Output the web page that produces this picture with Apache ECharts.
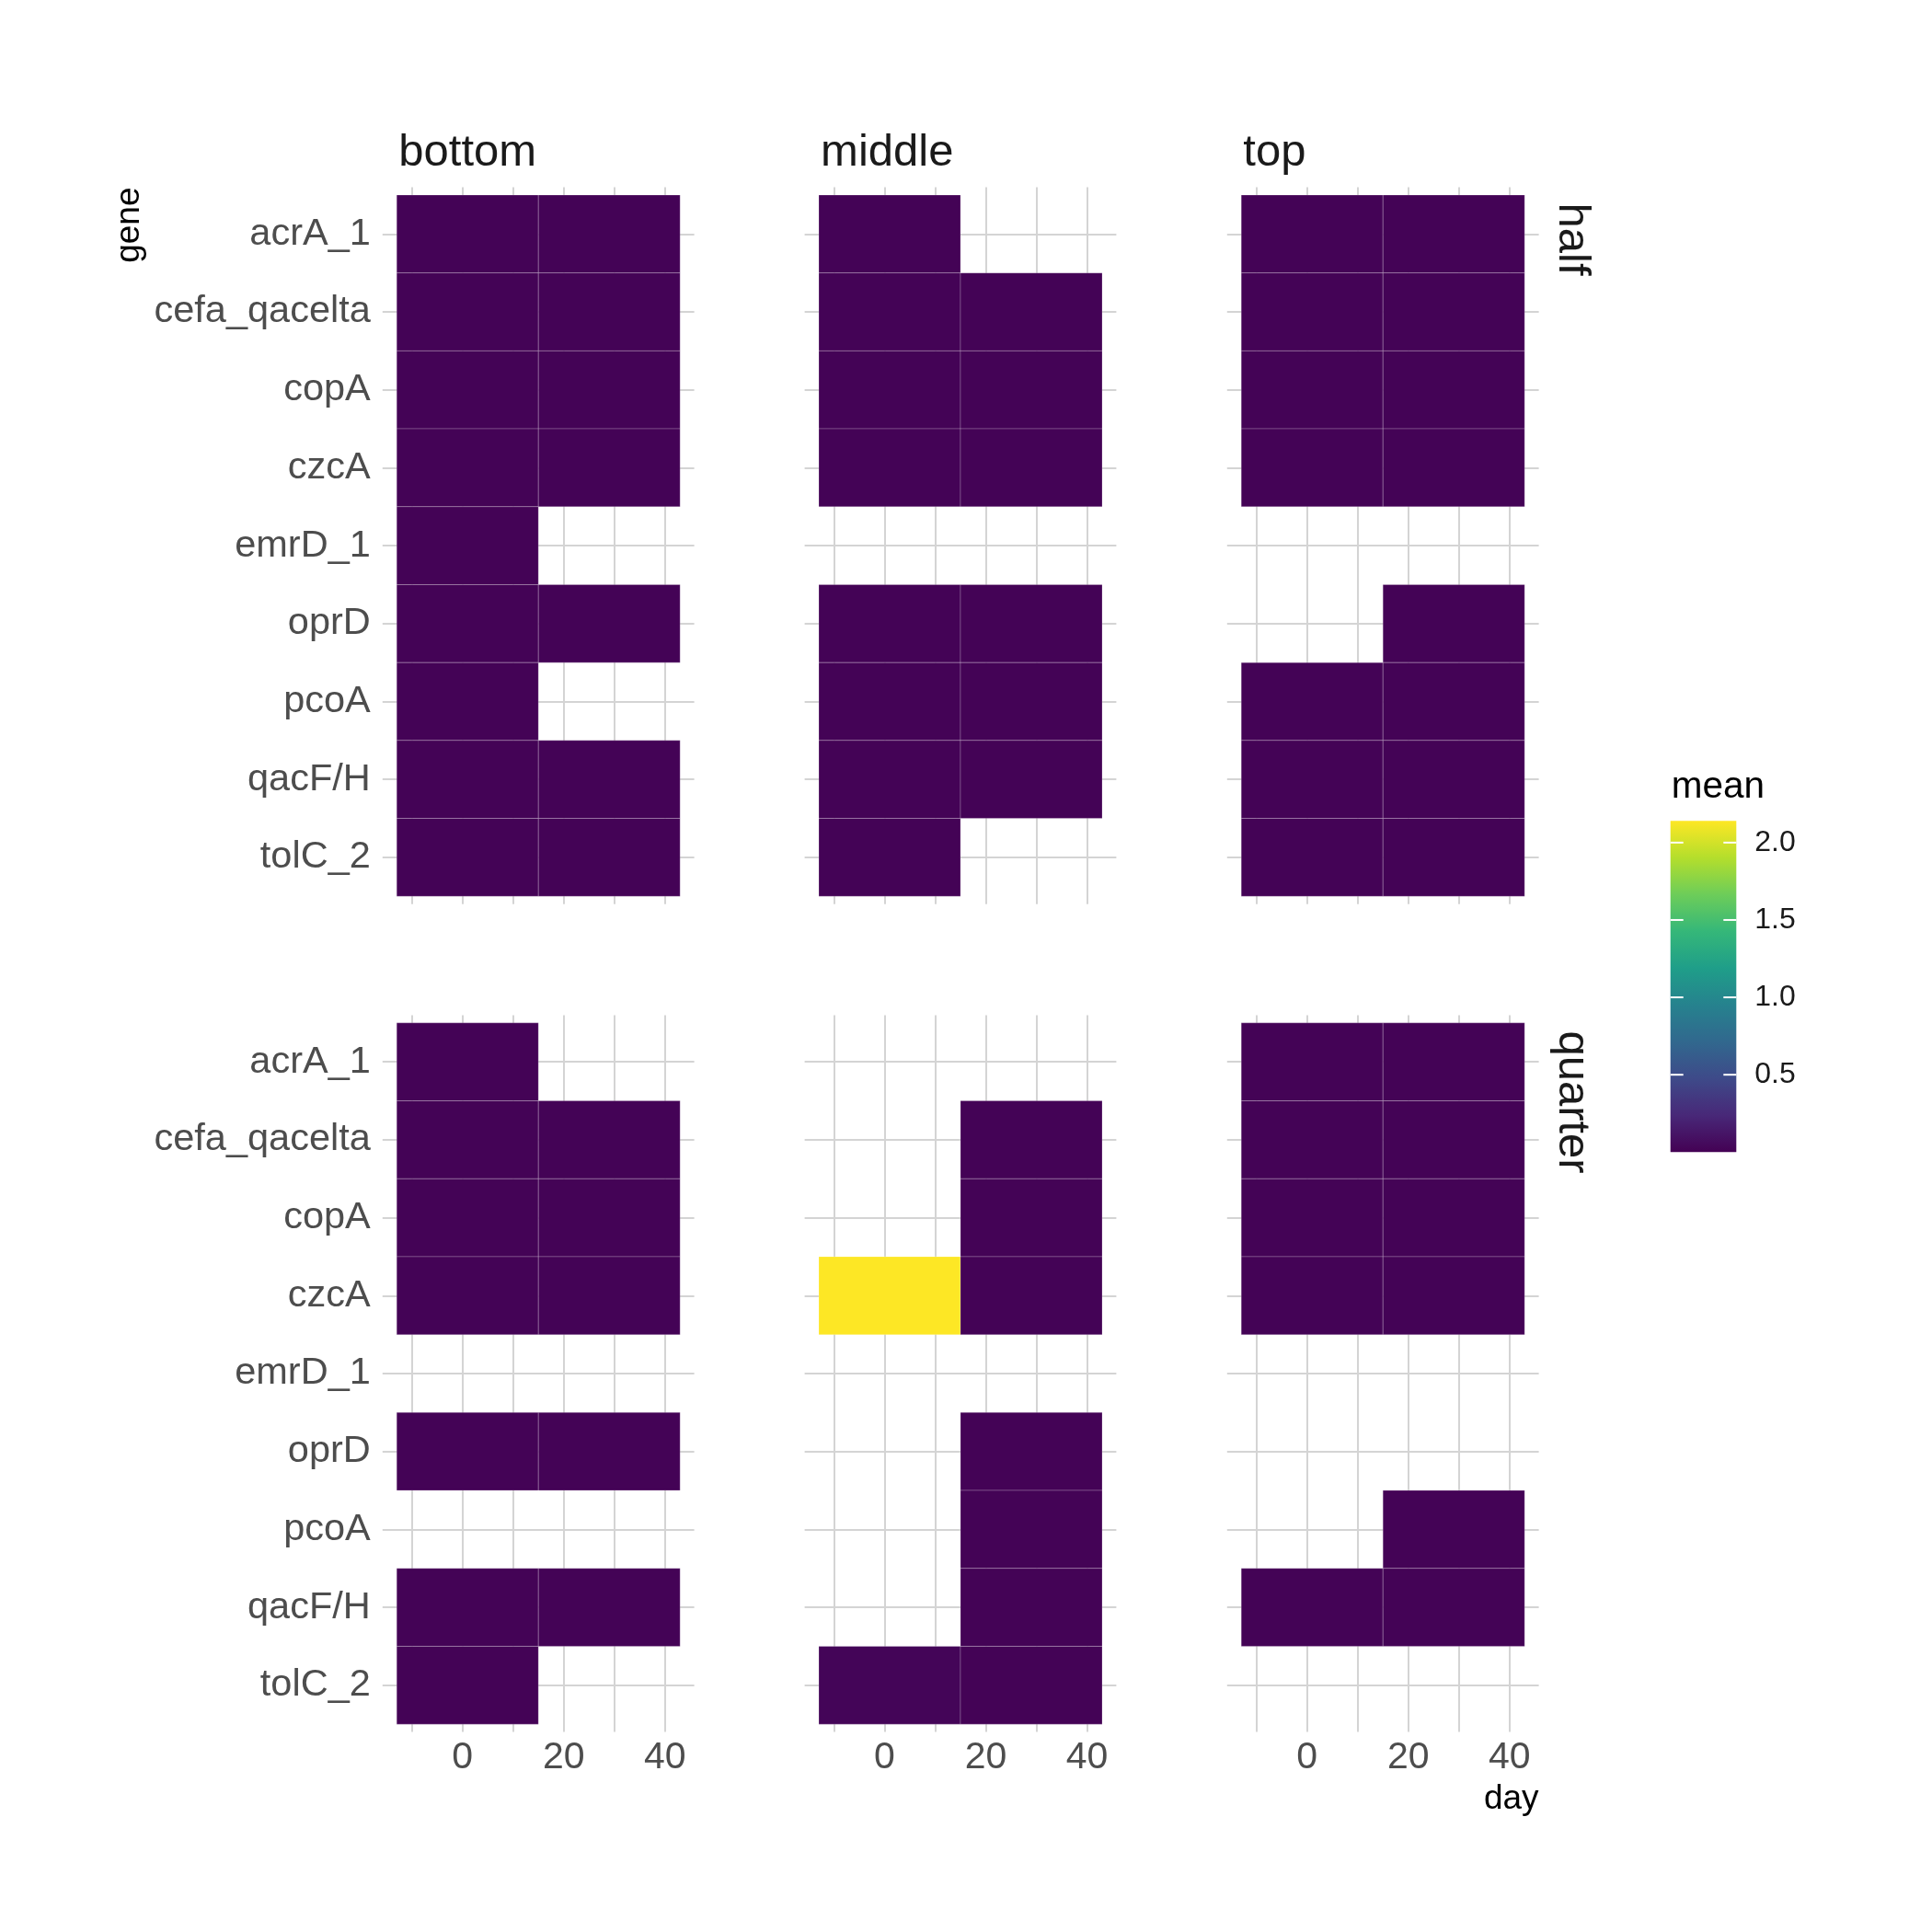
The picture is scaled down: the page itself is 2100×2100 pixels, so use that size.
<!DOCTYPE html>
<html>
<head>
<meta charset="utf-8">
<script src="https://cdn.jsdelivr.net/npm/echarts@6/dist/echarts.min.js"></script>
<style>
html,body{margin:0;padding:0;background:#fff;}
#chart{width:2100px;height:2100px;}
</style>
</head>
<body>
<div id="chart"></div>
<script>
// ---------------- data ----------------
const genes = ['acrA_1','cefa_qacelta','copA','czcA','emrD_1','oprD','pcoA','qacF/H','tolC_2'];
const days = [1, 29];
const positions = ['bottom','middle','top'];
const depths = ['half','quarter'];
const xTickValues = [-10, 0, 10, 20, 30, 40];
const xLabelValues = [0, 20, 40];
const legendTicks = [0.5, 1.0, 1.5, 2.0];
const meanMin = 0;
const meanMax = 2.14;
const tileWidthDays = 28;

// values per gene (order of `genes`), null = no tile
const halfBottomDay1   = [0.01,0.01,0.01,0.01,0.01,0.01,0.01,0.01,0.01];
const halfBottomDay29  = [0.01,0.01,0.01,0.01,null,0.01,null,0.01,0.01];
const halfMiddleDay1   = [0.01,0.01,0.01,0.01,null,0.01,0.01,0.01,0.01];
const halfMiddleDay29  = [null,0.01,0.01,0.01,null,0.01,0.01,0.01,null];
const halfTopDay1      = [0.01,0.01,0.01,0.01,null,null,0.01,0.01,0.01];
const halfTopDay29     = [0.01,0.01,0.01,0.01,null,0.01,0.01,0.01,0.01];
const quarterBottomDay1  = [0.01,0.01,0.01,0.01,null,0.01,null,0.01,0.01];
const quarterBottomDay29 = [null,0.01,0.01,0.01,null,0.01,null,0.01,null];
const quarterMiddleDay1  = [null,null,null,2.14,null,null,null,null,0.025];
const quarterMiddleDay29 = [null,0.01,0.01,0.01,null,0.01,0.01,0.01,0.01];
const quarterTopDay1     = [0.01,0.01,0.01,0.01,null,null,null,0.01,null];
const quarterTopDay29    = [0.01,0.01,0.01,0.01,null,null,0.01,0.01,null];

const panelValues = {
  half:    {bottom:[halfBottomDay1, halfBottomDay29], middle:[halfMiddleDay1, halfMiddleDay29], top:[halfTopDay1, halfTopDay29]},
  quarter: {bottom:[quarterBottomDay1, quarterBottomDay29], middle:[quarterMiddleDay1, quarterMiddleDay29], top:[quarterTopDay1, quarterTopDay29]}
};

const viridis = ['#440154','#482878','#3E4A89','#31688E','#26828E','#1F9E89','#35B779','#6DCD59','#B4DE2C','#FDE725'];

// ---------------- layout ----------------
const FONT = 'Liberation Sans, Arial, Helvetica, sans-serif';
const colLeft = [415.8, 874.6, 1333.8];
const rowTop = [203.5, 1103.4];
const panelW = 338.8, panelH = 779.2;
const gridColor = '#D4D4D4';

const grids = [], xAxes = [], yAxes = [], series = [], graphics = [];
let gi = 0;
depths.forEach((depth, r) => {
  positions.forEach((pos, c) => {
    grids.push({left: colLeft[c], top: rowTop[r], width: panelW, height: panelH, containLabel: false, show: false});
    xAxes.push({
      type: 'value', gridIndex: gi, min: -15.8, max: 45.8,
      axisLine: {show: false},
      axisTick: {show: false, customValues: xTickValues},
      splitLine: {show: true, lineStyle: {color: gridColor, width: 2}},
      axisLabel: {show: r === 1, customValues: xLabelValues, fontSize: 41, fontFamily: FONT, color: '#4D4D4D', margin: 8}
    });
    yAxes.push({
      type: 'value', gridIndex: gi, inverse: true, min: -0.6, max: 8.6,
      axisLine: {show: false},
      axisTick: {show: false, customValues: genes.map((g, i) => i)},
      splitLine: {show: true, lineStyle: {color: gridColor, width: 2}},
      axisLabel: {show: c === 0, customValues: genes.map((g, i) => i), fontSize: 41.5, fontFamily: FONT, color: '#4D4D4D', margin: 13,
        padding: [6, 0, 0, 0], formatter: v => genes[Math.round(v)]}
    });
    const data = [];
    panelValues[depth][pos].forEach((arr, di) => {
      arr.forEach((v, gIdx) => { if (v !== null) data.push([days[di], gIdx, v]); });
    });
    series.push({
      type: 'custom', xAxisIndex: gi, yAxisIndex: gi, data: data,
      encode: {x: 0, y: 1},
      renderItem: function (params, api) {
        const d = api.value(0), g = api.value(1);
        const p1 = api.coord([d - tileWidthDays / 2, g - 0.5]);
        const p2 = api.coord([d + tileWidthDays / 2, g + 0.5]);
        return {
          type: 'rect',
          shape: {x: Math.min(p1[0], p2[0]), y: Math.min(p1[1], p2[1]), width: Math.abs(p2[0] - p1[0]), height: Math.abs(p2[1] - p1[1])},
          style: {fill: api.visual('color'), stroke: 'rgba(255,255,255,0.22)', lineWidth: 1}
        };
      }
    });
    gi++;
  });
});
const tileSeriesCount = series.length;

// legend colour bar grid
const legLeft = 1815.7, legTop = 892.3, legW = 71.6, legH = 360;
const legIndex = gi;
grids.push({left: legLeft, top: legTop, width: legW, height: legH, containLabel: false, show: false});
xAxes.push({type: 'value', gridIndex: legIndex, min: 0, max: 1, show: false});
yAxes.push({
  type: 'value', gridIndex: legIndex, min: meanMin, max: meanMax, position: 'right',
  axisLine: {show: false}, splitLine: {show: false},
  axisTick: {show: false, customValues: legendTicks},
  axisLabel: {show: true, customValues: legendTicks, margin: 20, fontSize: 32, fontFamily: FONT, color: '#1A1A1A', formatter: v => v.toFixed(1)}
});

graphics.push({
  type: 'rect', z: 0, shape: {x: legLeft, y: legTop, width: legW, height: legH},
  style: {fill: {type: 'linear', x: 0, y: 1, x2: 0, y2: 0,
    colorStops: viridis.map((col, i) => ({offset: i / (viridis.length - 1), color: col}))}}
});

// legend tick marks drawn through the legend axis scale
series.push({
  type: 'custom', xAxisIndex: legIndex, yAxisIndex: legIndex, z: 10,
  data: legendTicks.map(v => [0, v]),
  encode: {x: 0, y: 1},
  renderItem: function (params, api) {
    const pL = api.coord([0, api.value(1)]);
    const pR = api.coord([1, api.value(1)]);
    const len = 14;
    return {
      type: 'group',
      children: [
        {type: 'line', shape: {x1: pL[0], y1: pL[1], x2: pL[0] + len, y2: pL[1]}, style: {stroke: '#ffffff', lineWidth: 2}},
        {type: 'line', shape: {x1: pR[0] - len, y1: pR[1], x2: pR[0], y2: pR[1]}, style: {stroke: '#ffffff', lineWidth: 2}}
      ]
    };
  }
});

// strip labels
positions.forEach((pos, c) => {
  graphics.push({type: 'text', x: colLeft[c] + 17.5, y: 166, z: 5,
    style: {text: pos, fontSize: 49, fontFamily: FONT, fill: '#1A1A1A', align: 'left', verticalAlign: 'middle'}});
});
depths.forEach((d, r) => {
  graphics.push({type: 'text', x: 1709, y: rowTop[r] + 17, rotation: -Math.PI / 2, z: 5,
    style: {text: d, fontSize: 49, fontFamily: FONT, fill: '#1A1A1A', align: 'left', verticalAlign: 'middle'}});
});
// axis titles
graphics.push({type: 'text', x: 141, y: 203.5, rotation: Math.PI / 2, z: 5,
  style: {text: 'gene', fontSize: 37, fontFamily: FONT, fill: '#000', align: 'right', verticalAlign: 'middle'}});
graphics.push({type: 'text', x: 1672.6, y: 1956, z: 5,
  style: {text: 'day', fontSize: 37, fontFamily: FONT, fill: '#000', align: 'right', verticalAlign: 'middle'}});
graphics.push({type: 'text', x: 1816.7, y: 856, z: 5,
  style: {text: 'mean', fontSize: 40.5, fontFamily: FONT, fill: '#000', align: 'left', verticalAlign: 'middle'}});

const chart = echarts.init(document.getElementById('chart'), null, {renderer: 'canvas'});
chart.setOption({
  backgroundColor: '#ffffff',
  animation: false,
  grid: grids,
  xAxis: xAxes,
  yAxis: yAxes,
  visualMap: {
    type: 'continuous', show: false, min: meanMin, max: meanMax, dimension: 2,
    seriesIndex: series.slice(0, tileSeriesCount).map((s, i) => i),
    inRange: {color: viridis}
  },
  graphic: graphics,
  series: series
});
</script>
</body>
</html>
